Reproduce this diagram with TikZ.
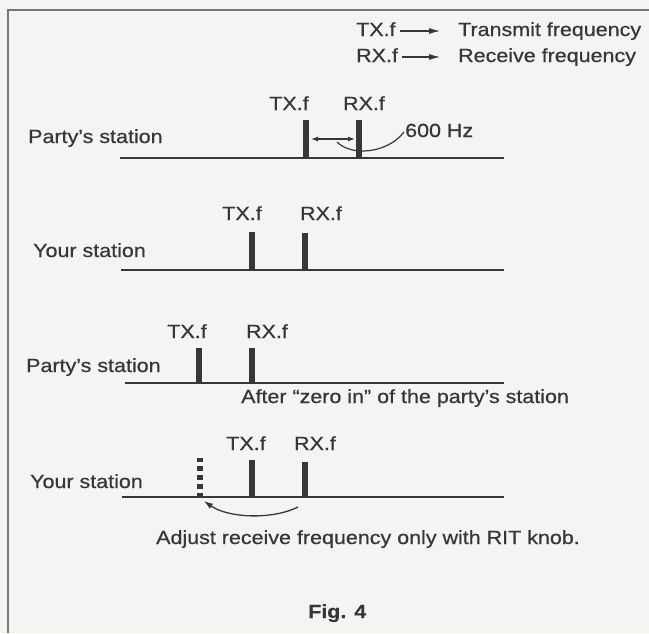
\documentclass[tikz,border=0pt]{standalone}
\usepackage{fontspec}
\setmainfont{Liberation Sans}[FakeStretch=1.13, FakeBold=0.6]
\usetikzlibrary{arrows.meta}
\usepackage{xcolor}
\definecolor{ink}{RGB}{55,55,55}
\definecolor{paper}{RGB}{244,244,242}
\definecolor{frame}{RGB}{120,120,120}

\begin{document}
\begin{tikzpicture}[x=1pt, y=-1pt,
    every node/.style={inner sep=1pt, text=ink, font=\fontsize{19}{22}\selectfont, text height=14pt, text depth=4pt},
    lbl/.style={anchor=base west},
    flbl/.style={anchor=base},
    freqline/.style={draw=ink, line width=1.8pt},
    bar/.style={draw=ink, line width=6pt},
    dbl/.style={draw=ink, line width=1.2pt, {Latex[length=7pt,width=5pt]}-{Latex[length=7pt,width=5pt]}},
    ptr/.style={draw=ink, line width=1.3pt, -{Latex[length=9pt,width=6pt]}},
    legarrow/.style={draw=ink, line width=1.7pt, -{Latex[length=12pt,width=6pt]}, shorten <=3pt, shorten >=16pt}]
    \useasboundingbox (0,0) rectangle (649,633);
    \fill[paper] (0,0) rectangle (649,633);
    \draw[frame, line width=2pt] (8,633) -- (8,10) -- (649,10);

    % legend
    \node[lbl] (ltx) at (355,36) {TX.f};
    \node[lbl] (ltxd) at (457,36) {Transmit frequency};
    \node[lbl] (lrx) at (355,62) {RX.f};
    \node[lbl] (lrxd) at (457,62) {Receive frequency};
    \draw[legarrow] (ltx.east) -- (ltxd.west);
    \draw[legarrow] (lrx.east) -- (lrxd.west);

    % party's station
    \node[lbl] (p1) at (27,143) {Party's station};
    \coordinate (a1) at (120,158);
    \coordinate (b1) at (504,158);
    \draw[freqline] (a1) -- (b1);
    \coordinate (tx1) at (306,159);
    \coordinate (rx1) at (359,159);
    \draw[bar] (tx1) -- ++(0,-39);
    \draw[bar] (rx1) -- ++(0,-39);
    \node[flbl] (tx1l) at (289,110) {TX.f};
    \node[flbl] (rx1l) at (364,110) {RX.f};
    \coordinate (gapl) at (311,139);
    \coordinate (gapr) at (355,139);
    \draw[dbl] (gapl) -- (gapr);
    \node[lbl] (hz) at (404,137) {600 Hz};
    \coordinate (lead) at (337,142);
    \draw[draw=ink, line width=1.2pt] (lead) .. controls (352,157) and (388,153) .. (hz.west);

    % your station
    \node[lbl] (y2) at (32,257) {Your station};
    \coordinate (a2) at (121,270);
    \coordinate (b2) at (504,270);
    \draw[freqline] (a2) -- (b2);
    \coordinate (tx2) at (252,271);
    \coordinate (rx2) at (305,271);
    \draw[bar] (tx2) -- ++(0,-39);
    \draw[bar] (rx2) -- ++(0,-38);
    \node[flbl] (tx2l) at (242,220) {TX.f};
    \node[flbl] (rx2l) at (321,220) {RX.f};

    % party's station, after zero in
    \node[lbl] (p3) at (25,372) {Party's station};
    \coordinate (a3) at (125,383);
    \coordinate (b3) at (504,383);
    \draw[freqline] (a3) -- (b3);
    \coordinate (tx3) at (199,384);
    \coordinate (rx3) at (252,384);
    \draw[bar] (tx3) -- ++(0,-36);
    \draw[bar] (rx3) -- ++(0,-36);
    \node[flbl] (tx3l) at (187,338) {TX.f};
    \node[flbl] (rx3l) at (267,338) {RX.f};
    \node[lbl] (zero) at (240,403) {After ``zero in'' of the party's station};

    % your station, RIT
    \node[lbl] (y4) at (29,488) {Your station};
    \coordinate (a4) at (122,497);
    \coordinate (b4) at (504,497);
    \draw[freqline] (a4) -- (b4);
    \coordinate (old4) at (200,498);
    \coordinate (tx4) at (252,498);
    \coordinate (rx4) at (305,498);
    \draw[bar, dash pattern=on 5pt off 4pt] (old4) -- ++(0,-40);
    \draw[bar] (tx4) -- ++(0,-38);
    \draw[bar] (rx4) -- ++(0,-36);
    \node[flbl] (tx4l) at (246,450) {TX.f};
    \node[flbl] (rx4l) at (315,450) {RX.f};
    \coordinate (rit) at (298,507);
    \coordinate (ritend) at (204,501);
    \draw[ptr] (rit) .. controls (272,520) and (228,518) .. (ritend);
    \node[lbl] (adj) at (155,544) {Adjust receive frequency only with RIT knob.};

    \node[lbl] (fig) at (307,618) {\bfseries Fig. 4};
\end{tikzpicture}
\end{document}
